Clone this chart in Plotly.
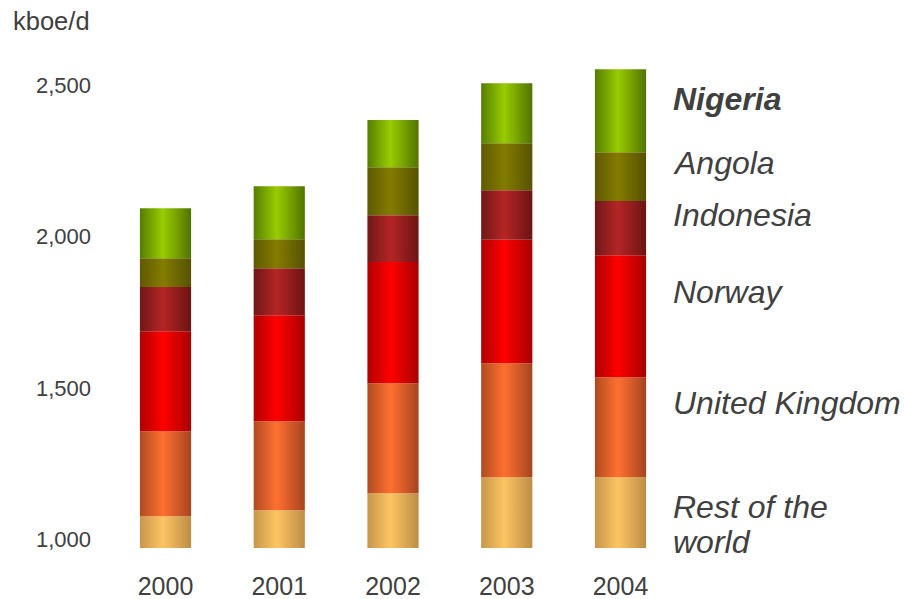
import plotly.graph_objects as go

# Oil & gas production by country, stacked (kboe/d)
years = ["2000", "2001", "2002", "2003", "2004"]
rest_of_world = [1076, 1096, 1152, 1205, 1205]
united_kingdom = [281, 294, 363, 376, 330]
norway = [330, 350, 401, 408, 403]
indonesia = [146, 155, 154, 164, 179]
angola = [95, 96, 159, 155, 161]
nigeria = [165, 175, 156, 198, 275]

series_names = ["Rest of the world", "United Kingdom", "Norway", "Indonesia", "Angola", "Nigeria"]
series_values = [rest_of_world, united_kingdom, norway, indonesia, angola, nigeria]

# edge / highlight / edge colours for the cylinder-like shading
series_shades = [
    ("#C6964A", "#FDC462", "#BC8D45"),
    ("#B04A20", "#FF7030", "#A64420"),
    ("#B00000", "#FF0000", "#A80000"),
    ("#701818", "#B52525", "#6C1414"),
    ("#5E5900", "#847C00", "#565200"),
    ("#557E00", "#99CC00", "#517300"),
]

# side labels: text lines and the vertical centre of each line (px from top)
label_lines = [
    ["Rest of the", "world"],
    ["United Kingdom"],
    ["Norway"],
    ["Indonesia"],
    ["Angola"],
    ["Nigeria"],
]
label_y_px = [[507, 542], [403], [292], [215], [163], [99]]

bar_width = 0.45
text_color = "#404040"
font_family = "Liberation Sans, Arial, sans-serif"

# plot area geometry
L, R, T, B = 97, 20, 43, 51
W, H = 904, 599
plot_w = W - L - R
plot_h = H - T - B
px_per_cat = 113.75
x0 = -(165.5 - L) / px_per_cat
x_range = [x0, x0 + plot_w / px_per_cat]
y_min = 971
px_per_unit = 0.3027
y_range = [y_min, y_min + plot_h / px_per_unit]

fig = go.Figure()

base = [0.0] * len(years)
for name, vals, (c_left, c_mid, c_right) in zip(series_names, series_values, series_shades):
    for i, v in enumerate(vals):
        lo, hi = base[i], base[i] + v
        xl, xr = i - bar_width / 2, i + bar_width / 2
        fig.add_trace(go.Scatter(
            x=[xl, xr, xr, xl, xl],
            y=[lo, lo, hi, hi, lo],
            mode="lines",
            line=dict(width=0, color=c_mid),
            fill="toself",
            fillgradient=dict(
                type="horizontal",
                colorscale=[[0, c_left], [0.45, c_mid], [1, c_right]],
            ),
            name=name,
            showlegend=False,
            hoverinfo="skip",
        ))
        base[i] = hi

annotations = []
for name, lines, ys in zip(series_names, label_lines, label_y_px):
    for line, py in zip(lines, ys):
        annotations.append(dict(
            text=line,
            xref="paper", yref="paper",
            x=(671 - L) / plot_w, y=(H - B - py) / plot_h,
            xanchor="left", yanchor="middle", align="left",
            showarrow=False,
            font=dict(family=font_family, size=32, color=text_color,
                      style="italic", weight="bold" if name == "Nigeria" else "normal"),
        ))

annotations.append(dict(
    text="kboe/d",
    xref="paper", yref="paper",
    x=(11 - L) / plot_w, y=(H - B - 21) / plot_h,
    xanchor="left", yanchor="middle",
    showarrow=False,
    font=dict(family=font_family, size=25.5, color=text_color),
))

fig.update_layout(
    width=W, height=H,
    margin=dict(l=L, r=R, t=T, b=B),
    plot_bgcolor="white", paper_bgcolor="white",
    annotations=annotations,
    font=dict(family=font_family, color=text_color),
)
fig.update_xaxes(
    range=x_range, tickmode="array",
    tickvals=list(range(len(years))), ticktext=years,
    showgrid=False, zeroline=False, showline=False, ticks="",
    tickfont=dict(size=25, color=text_color),
    ticklabelstandoff=21, automargin=False,
)
fig.update_yaxes(
    range=y_range, tickmode="array",
    tickvals=[1000, 1500, 2000, 2500],
    ticktext=["1,000", "1,500", "2,000", "2,500"],
    showgrid=False, zeroline=False, showline=False, ticks="",
    tickfont=dict(size=22, color=text_color),
    ticklabelstandoff=5, automargin=False,
)

fig.write_html("out.html")
